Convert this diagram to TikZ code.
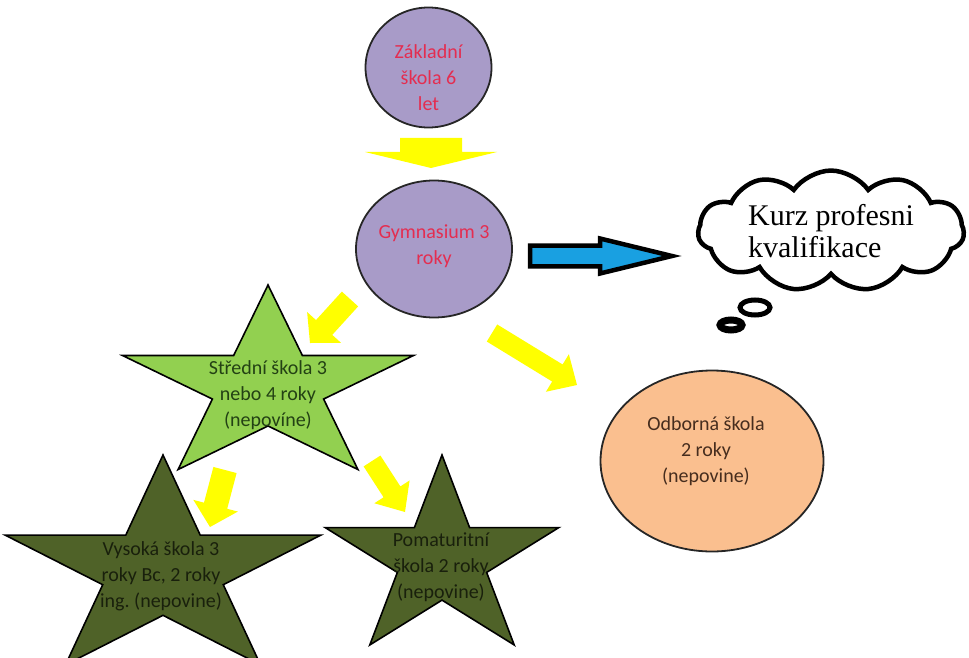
\documentclass[tikz,border=0pt]{standalone}
\usepackage{fontspec}
\setmainfont{Carlito}
\newfontfamily\timesf{Liberation Serif}
\usetikzlibrary{shapes.geometric,shapes.symbols,calc}
\definecolor{circfill}{RGB}{168,155,200}
\definecolor{redtext}{RGB}{228,45,80}
\definecolor{lightstar}{RGB}{146,208,80}
\definecolor{darkstar}{RGB}{79,98,40}
\definecolor{orangefill}{RGB}{250,191,143}
\definecolor{arrowyellow}{RGB}{255,255,0}
\definecolor{arrowblue}{RGB}{25,160,225}
\definecolor{stredtext}{RGB}{35,65,20}
\definecolor{darktext}{RGB}{25,32,12}
\definecolor{browntext}{RGB}{70,45,30}
\frenchspacing
\tikzset{
  circnode/.style={ellipse, draw=black!85, line width=1.8pt, fill=circfill, inner sep=0pt, align=center},
  labeltext/.style={align=center, font=\fontsize{20}{26}\selectfont},
  starline/.style={draw=black, line width=1.6pt, line join=miter},
  yblock/.style={fill=arrowyellow},
  bblock/.style={fill=arrowblue, draw=black, line width=4.5pt, line join=miter},
}
% star: centre x, centre y, radius, x stretch, fill colour
\newcommand{\drawstarshape}[5]{%
  \filldraw[starline, fill=#5] ({#1},{#2-#3})
  \foreach \ang/\rr in {126/0.382,162/1,198/0.382,234/1,270/0.382,306/1,342/0.382,18/1,54/0.382}
    { -- ({#1+#4*#3*\rr*cos(\ang)},{#2-#3*\rr*sin(\ang)}) } -- cycle;}
% block arrow: style, from, to, shaft half width, head length, head half width
\newcommand{\fatarrow}[6]{%
  \coordinate (fa-h) at ($(#3)!#5pt!(#2)$);
  \path[#1] ($(#2)!#4pt!90:(#3)$) -- ($(fa-h)!#4pt!90:(#3)$) -- ($(fa-h)!#6pt!90:(#3)$)
    -- (#3) -- ($(fa-h)!#6pt!-90:(#3)$) -- ($(fa-h)!#4pt!-90:(#3)$) -- ($(#2)!#4pt!-90:(#3)$) -- cycle;}
\begin{document}
\begin{tikzpicture}[x=1pt,y=-1pt]
\useasboundingbox (0,0) rectangle (969,658);
% circles and ellipse
\node[circnode, minimum width=126pt, minimum height=120pt] (zakl) at (428.5,67.5) {};
\node[labeltext, text=redtext] (zakltext) at (428.5,78) {Základní\\škola 6\\let};
\node[circnode, minimum width=156pt, minimum height=137pt] (gym) at (434,249) {};
\node[labeltext, text=redtext] (gymtext) at (434,246) {Gymnasium 3\\roky};
\node[ellipse, draw=black!85, line width=1.8pt, fill=orangefill, minimum width=223pt, minimum height=181pt] (odb) at (712,461) {};
\node[labeltext, text=browntext] (odbtext) at (706,451) {Odborná škola\\2 roky\\(nepovine)};
% stars
\drawstarshape{163}{571}{116}{1.43}{darkstar}
\drawstarshape{442}{560}{105}{1.17}{darkstar}
\drawstarshape{268}{387}{102}{1.5}{lightstar}
\node[labeltext, text=stredtext] (stred) at (268,395) {Střední škola 3\\nebo 4 roky\\(nepovíne)};
\node[labeltext, text=darktext] (vys) at (161,576) {Vysoká škola 3\\roky Bc, 2 roky\\ing. (nepovine)};
\node[labeltext, text=darktext] (pom) at (441,567) {Pomaturitní\\škola 2 roky\\(nepovine)};
% cloud
\node[cloud, draw=black, line width=4.5pt, fill=white, cloud puffs=11, cloud puff arc=110, aspect=2.6,
      minimum width=266pt, minimum height=110pt, inner sep=0pt, align=left,
      font=\timesf\fontsize{30}{32}\selectfont] (cloud) at (831,231) {Kurz profesni\\kvalifikace};
\draw[line width=5pt] (755,307.5) ellipse [x radius=15pt, y radius=7.5pt];
\draw[line width=7pt] (731,325) ellipse [x radius=11pt, y radius=5pt];
% connector end points
\coordinate (a1s) at (431,138); \coordinate (a1e) at (431,168);
\coordinate (a2s) at (350,299); \coordinate (a2e) at (310,343);
\coordinate (a3s) at (492,333); \coordinate (a3e) at (577,385);
\coordinate (a4s) at (225,470); \coordinate (a4e) at (210,527);
\coordinate (a5s) at (372,461); \coordinate (a5e) at (405,512);
\coordinate (bs) at (530,256); \coordinate (be) at (672,256);
% arrows
\fatarrow{yblock}{a1s}{a1e}{31}{16}{66}
\fatarrow{yblock}{a2s}{a2e}{11}{21}{23}
\fatarrow{yblock}{a3s}{a3e}{10}{23}{22}
\fatarrow{yblock}{a4s}{a4e}{12}{22}{23}
\fatarrow{yblock}{a5s}{a5e}{10}{24}{21}
\fatarrow{bblock}{bs}{be}{10.3}{72}{17.5}
\end{tikzpicture}
\end{document}
